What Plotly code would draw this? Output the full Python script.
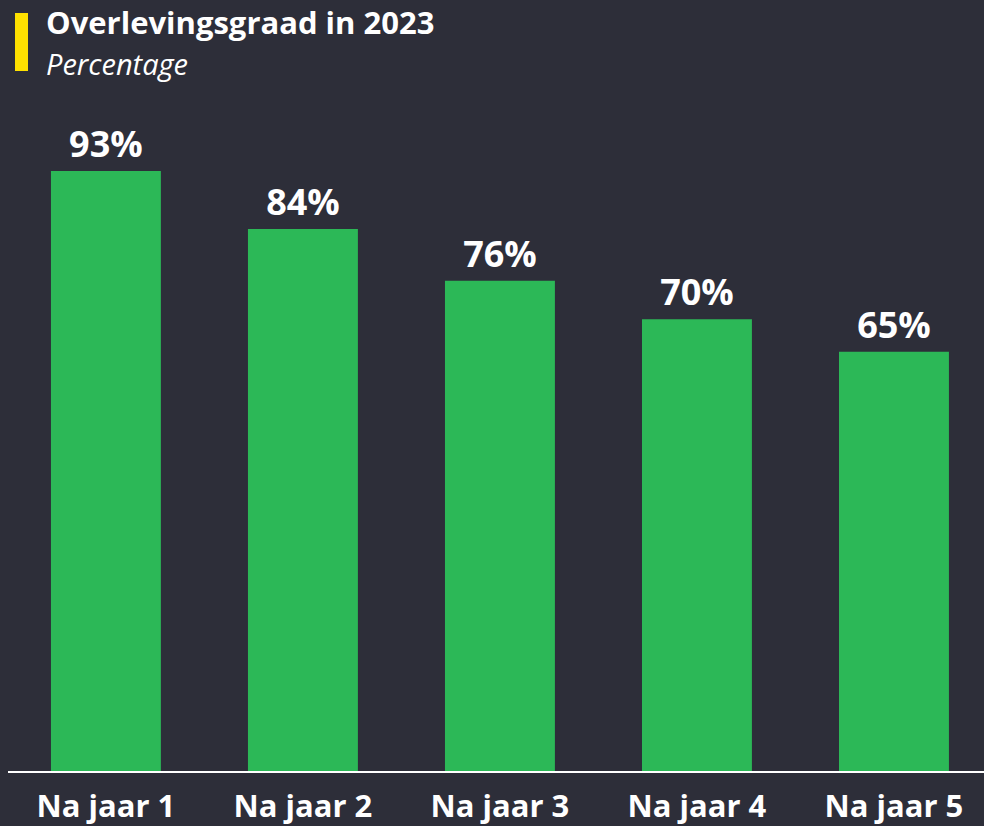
import plotly.graph_objects as go

categories = ["Na jaar 1", "Na jaar 2", "Na jaar 3", "Na jaar 4", "Na jaar 5"]
values = [93, 84, 76, 70, 65]
labels = ["93%", "84%", "76%", "70%", "65%"]

BG = "#2d2e39"
GREEN = "#2cb857"
W, H = 984, 826
ML, MR, MT, MB = 8, 0, 100, 55

fig = go.Figure(go.Bar(
    x=list(range(len(categories))),
    y=values,
    text=labels,
    textposition="outside",
    textfont=dict(family="Open Sans", size=36, color="white", weight="bold"),
    marker=dict(color=GREEN, line=dict(width=0)),
    width=0.558,
    cliponaxis=False,
))

pw = W - ML - MR
ph = H - MT - MB
def px_x(px):
    return (px - ML) / pw
def px_y(py_from_top):
    return (H - py_from_top - MB) / ph

fig.update_layout(
    width=W, height=H,
    paper_bgcolor=BG, plot_bgcolor=BG,
    margin=dict(l=ML, r=MR, t=MT, b=MB),
    showlegend=False,
    xaxis=dict(
        range=[-0.497, 4.457],
        tickmode="array",
        tickvals=list(range(len(categories))),
        ticktext=categories,
        tickfont=dict(family="Open Sans", size=31, color="white", weight="bold"),
        showgrid=False, zeroline=False,
        showline=True, linecolor="white", linewidth=2,
        ticks="", ticklabelstandoff=7, automargin=False,
    ),
    yaxis=dict(range=[0, 104.0], visible=False, showgrid=False, zeroline=False, automargin=False),
    annotations=[
        dict(text="<b>Overlevingsgraad in 2023</b>", x=px_x(44), y=px_y(22), xref="paper", yref="paper",
             showarrow=False, xanchor="left", yanchor="middle",
             font=dict(family="Open Sans", size=31, color="white")),
        dict(text="<i>Percentage</i>", x=px_x(44), y=px_y(63), xref="paper", yref="paper",
             showarrow=False, xanchor="left", yanchor="middle",
             font=dict(family="Open Sans", size=29, color="white")),
    ],
    shapes=[
        dict(type="rect", xref="paper", yref="paper", x0=px_x(15), x1=px_x(28), y0=px_y(71), y1=px_y(13),
             fillcolor="#ffe100", line=dict(width=0)),
    ],
)

fig.write_html(
    "out.html",
    config={"displayModeBar": False},
    post_script="document.body.style.margin='0';document.body.style.background='%s';" % BG,
)
